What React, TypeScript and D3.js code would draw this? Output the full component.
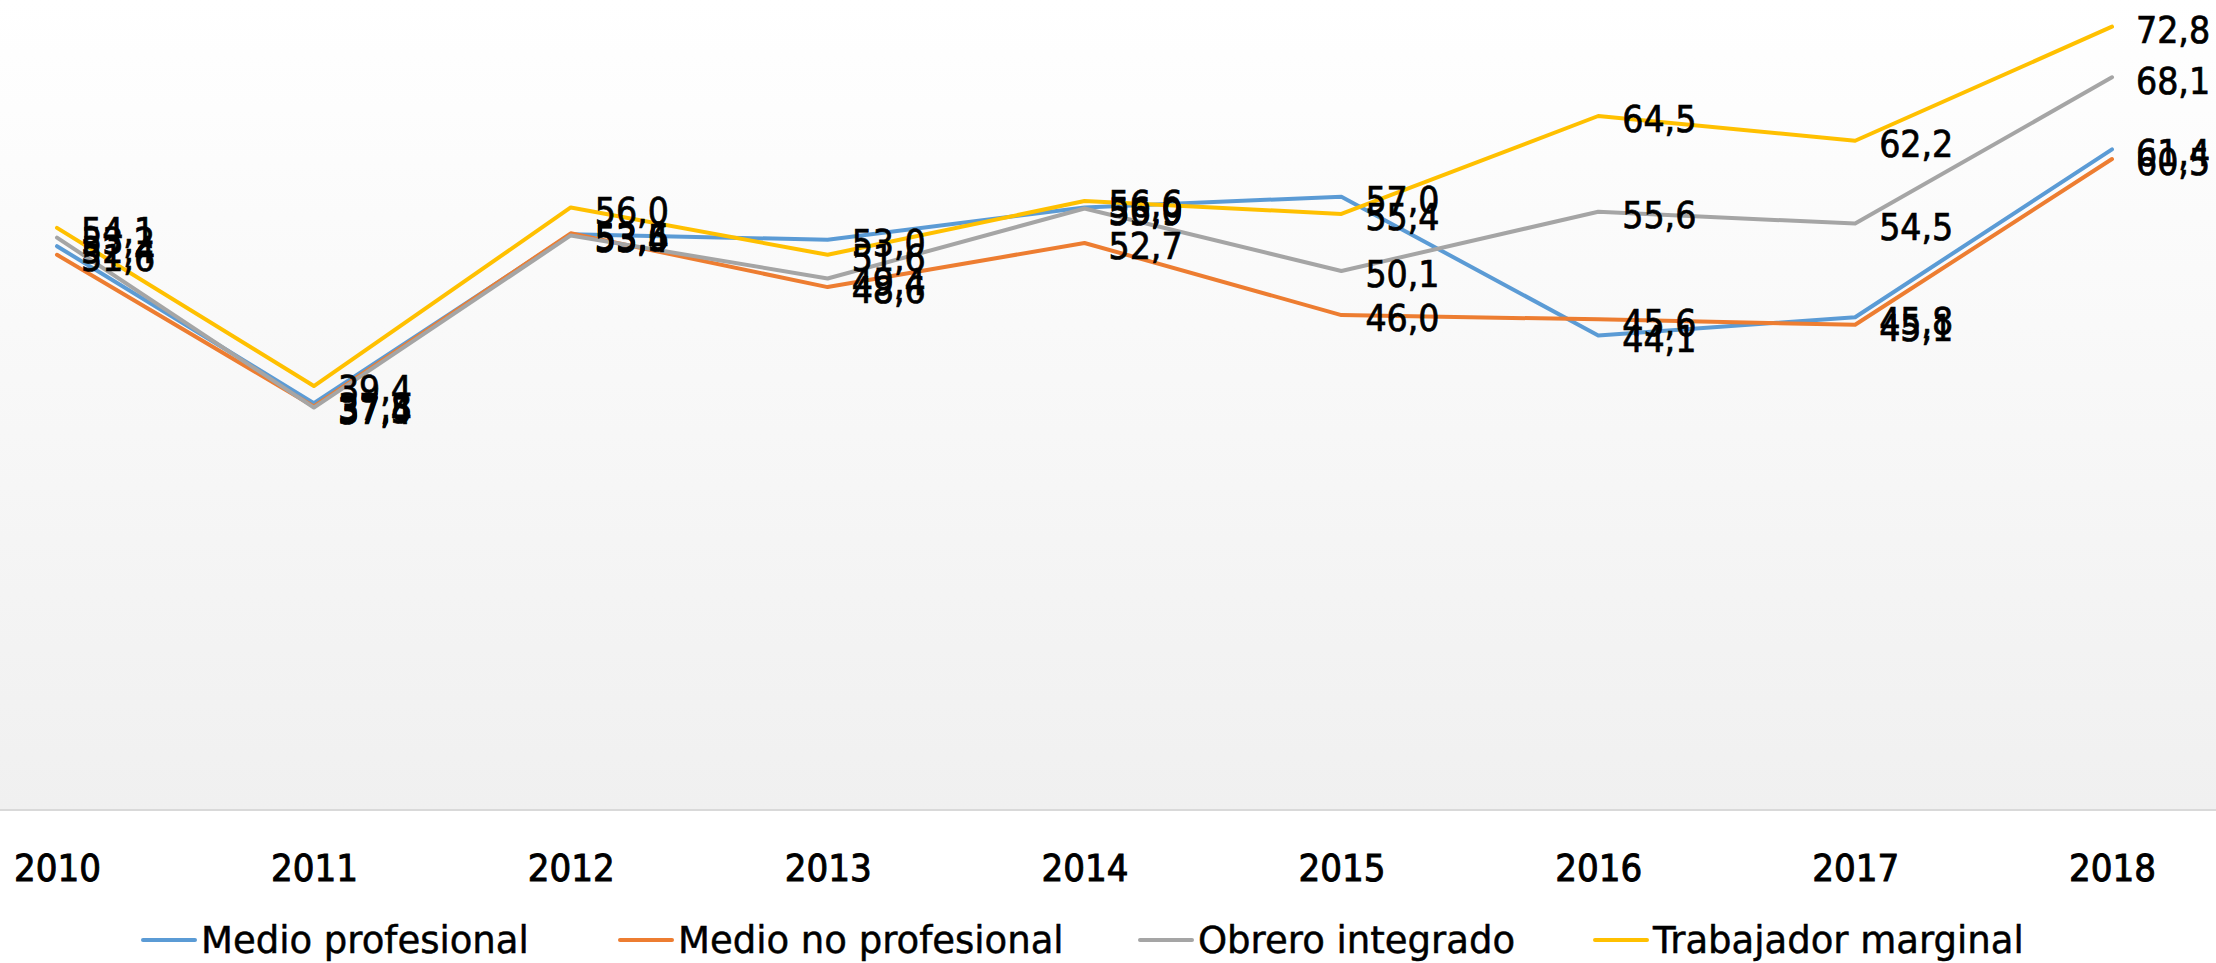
import React, { useEffect, useRef } from "react";
import * as d3 from "d3";

// data
const years = ["2010", "2011", "2012", "2013", "2014", "2015", "2016", "2017", "2018"];
const medioProfesional = [52.4, 37.8, 53.5, 53.0, 56.0, 57.0, 44.1, 45.8, 61.4];
const medioNoProfesional = [51.6, 37.5, 53.6, 48.6, 52.7, 46.0, 45.6, 45.1, 60.5];
const obreroIntegrado = [53.2, 37.4, 53.4, 49.4, 55.9, 50.1, 55.6, 54.5, 68.1];
const trabajadorMarginal = [54.1, 39.4, 56.0, 51.6, 56.6, 55.4, 64.5, 62.2, 72.8];
const seriesNames = ["Medio profesional", "Medio no profesional", "Obrero integrado", "Trabajador marginal"];
const seriesColors = ["#5b9bd5", "#ed7d31", "#a5a5a5", "#ffc000"];

const W = 2216;
const H = 963;

function App() {
  const ref = useRef<SVGSVGElement | null>(null);

  useEffect(() => {
    document.body.style.margin = "0";
    const svg = d3.select(ref.current);
    svg.selectAll("*").remove();

    const allSeries = [medioProfesional, medioNoProfesional, obreroIntegrado, trabajadorMarginal];
    const axisY = 810;

    const x = d3.scalePoint<string>().domain(years).range([57, 2112]);
    const y = d3.scaleLinear().domain([0, 72.8]).range([axisY, 26.7]);

    // background gradient of the plot area
    const defs = svg.append("defs");
    const grad = defs.append("linearGradient").attr("id", "bg").attr("x1", 0).attr("y1", 0).attr("x2", 0).attr("y2", 1);
    grad.append("stop").attr("offset", "0%").attr("stop-color", "#ffffff");
    grad.append("stop").attr("offset", "100%").attr("stop-color", "#f0f0f0");
    svg.append("rect").attr("x", 0).attr("y", 0).attr("width", W).attr("height", axisY).attr("fill", "url(#bg)");
    svg.append("rect").attr("x", 0).attr("y", axisY).attr("width", W).attr("height", H - axisY).attr("fill", "#ffffff");

    // x axis
    const xAxis = d3.axisBottom(x).tickSize(0).tickPadding(0);
    const gx = svg.append("g").attr("transform", `translate(0, ${axisY})`).call(xAxis);
    gx.select(".domain").remove();
    svg.append("line").attr("x1", 0).attr("x2", W).attr("y1", axisY).attr("y2", axisY)
      .attr("stroke", "#d9d9d9").attr("stroke-width", 2);
    gx.selectAll("text")
      .attr("y", 57)
      .attr("dy", "0.36em")
      .attr("fill", "#000")
      .attr("stroke", "#000")
      .attr("stroke-width", 0.9)
      .attr("font-family", "'DejaVu Sans Condensed', sans-serif")
      .attr("font-size", 38)
      .attr("text-anchor", "middle");

    const line = d3.line<number>().x((d, i) => x(years[i]) as number).y(d => y(d));

    allSeries.forEach((vals, k) => {
      svg.append("path").datum(vals).attr("d", line).attr("fill", "none")
        .attr("stroke", seriesColors[k]).attr("stroke-width", 4)
        .attr("stroke-linejoin", "round").attr("stroke-linecap", "round");
    });

    allSeries.forEach((vals) => {
      svg.append("g").selectAll("text").data(vals).join("text")
        .attr("x", (d, i) => (x(years[i]) as number) + 24)
        .attr("y", d => y(d) + 3)
        .attr("dy", "0.36em")
        .attr("font-family", "'DejaVu Sans Condensed', 'DejaVu Sans', sans-serif")
        .attr("font-size", 37)
        .attr("fill", "#000")
        .attr("stroke", "#000")
        .attr("stroke-width", 0.7)
        .text(d => d.toFixed(1).replace(".", ","));
    });

    // legend
    const legendX = [141, 618, 1138, 1593];
    const legendY = 940;
    seriesNames.forEach((name, k) => {
      const g = svg.append("g").attr("transform", `translate(${legendX[k]}, ${legendY})`);
      g.append("line").attr("x1", 2).attr("x2", 54).attr("y1", 0).attr("y2", 0)
        .attr("stroke", seriesColors[k]).attr("stroke-width", 4).attr("stroke-linecap", "round");
      g.append("text").attr("x", 60).attr("y", 0).attr("dy", "0.36em")
        .attr("font-family", "'DejaVu Sans', sans-serif").attr("font-size", 37)
        .attr("fill", "#000").attr("stroke", "#000").attr("stroke-width", 0.5).text(name);
    });
  }, []);

  return <svg ref={ref} width={W} height={H} style={{ display: "block" }}></svg>;
}

export default App;
